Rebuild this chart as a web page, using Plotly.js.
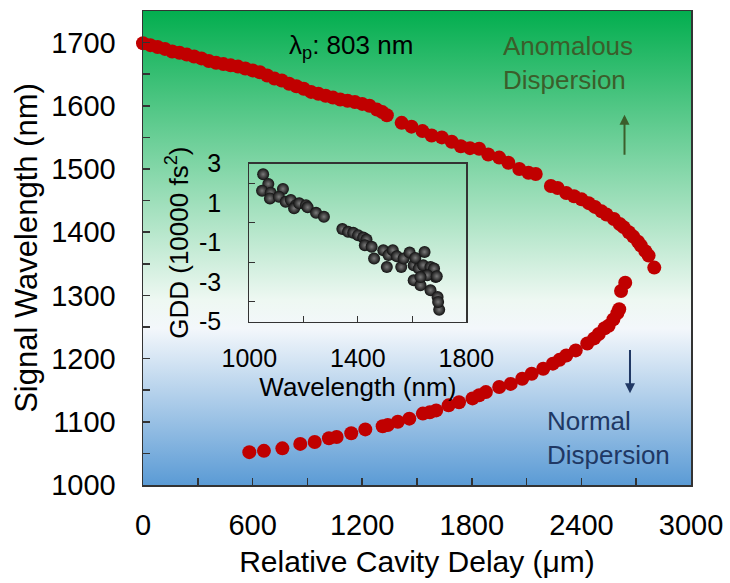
<!DOCTYPE html>
<html>
<head>
<meta charset="utf-8">
<script src="https://cdn.plot.ly/plotly-3.0.1.min.js"></script>
<style>html,body{margin:0;padding:0;background:#fff;}#chart{width:730px;height:583px;}</style>
</head>
<body>
<div id="chart"></div>
<script>
// Upper (anomalous) branch: relative cavity delay (µm) vs signal wavelength (nm)
const upperDelay = [0, 40, 80, 120, 160, 200, 240, 280, 320, 360, 400, 440, 480, 520, 560, 600, 640, 680, 720, 760, 800, 840, 880, 920, 960, 1000, 1040, 1080, 1120, 1160, 1200, 1240, 1280, 1310, 1335,
  1416, 1470, 1530, 1580, 1636, 1690, 1740, 1790, 1840, 1890, 1950, 2000, 2060, 2110, 2150,
  2233, 2270, 2317, 2360, 2401, 2440, 2474, 2510, 2537, 2578, 2610, 2631, 2660, 2684, 2710, 2725, 2750, 2768, 2799];
const upperWl = [1699, 1696, 1693, 1690, 1686, 1684, 1681, 1678, 1675, 1671, 1668, 1666, 1664, 1662, 1659, 1656, 1653, 1648, 1643, 1640, 1635, 1631, 1627, 1622, 1619, 1616, 1613, 1610, 1608, 1606, 1603, 1600, 1594, 1590, 1585,
  1573, 1567, 1560, 1553, 1550, 1543, 1536, 1533, 1532, 1523, 1518, 1510, 1500, 1494, 1492,
  1473, 1470, 1462, 1457, 1452, 1446, 1440, 1433, 1428, 1421, 1413, 1408, 1400, 1393, 1385, 1379, 1370, 1363, 1344];
// Lower (normal) branch
const lowerDelay = [582, 662, 763, 861, 940, 1018, 1060, 1140, 1217, 1312, 1340, 1395, 1458, 1532, 1570, 1605, 1673, 1730, 1804, 1840, 1877, 1950, 2013, 2076, 2128, 2191, 2244, 2280, 2317, 2369, 2432, 2470, 2495, 2527, 2549, 2575, 2597, 2607, 2617, 2640];
const lowerWl = [1052, 1054, 1058, 1065, 1068, 1074, 1076, 1082, 1088, 1093, 1095, 1100, 1105, 1113, 1115, 1118, 1126, 1131, 1137, 1142, 1147, 1155, 1160, 1168, 1176, 1184, 1192, 1198, 1205, 1213, 1224, 1232, 1239, 1248, 1252, 1262, 1272, 1278, 1307, 1320];
// Inset: GDD (10000 fs^2) vs wavelength (nm)
const insetWl = [1051, 1070, 1047, 1079, 1124, 1076, 1109, 1134, 1153, 1172, 1165, 1184, 1209, 1215, 1246, 1275,
  1343, 1364, 1383, 1401, 1420, 1432, 1426, 1451, 1460, 1494, 1507, 1513, 1529, 1544, 1560, 1569, 1591, 1606, 1612, 1625,
  1606, 1631, 1646, 1641, 1668, 1668, 1687, 1681, 1694, 1700, 1696, 1656, 1631, 1691];
const insetGdd = [2.46, 1.97, 1.63, 1.53, 1.72, 1.24, 1.32, 1.07, 1.16, 0.90, 0.74, 0.99, 0.90, 0.79, 0.51, 0.31,
  -0.31, -0.45, -0.50, -0.62, -0.74, -0.84, -1.13, -1.21, -1.80, -1.38, -2.23, -1.63, -1.38, -1.69, -2.23, -1.80, -1.50, -2.14, -1.77, -2.31,
  -2.90, -3.16, -1.47, -2.14, -2.23, -3.41, -2.74, -2.31, -3.75, -4.39, -4.00, -2.65, -2.74, -2.70];
// Inset y tick labels (hyphen minus as in the original)
const insetGddTicks = [-5, -3, -1, 1, 3];
const insetGddTickText = ['-5', '-3', '-1', '1', '3'];

const FONT = 'Liberation Sans, Arial, sans-serif';
const RED = '#c00000';

const svg = "<svg xmlns='http://www.w3.org/2000/svg' width='100' height='100' preserveAspectRatio='none'>" +
  "<defs><linearGradient id='g' x1='0' y1='0' x2='0' y2='1'>" +
  "<stop offset='0' stop-color='#03ae4f'/>" +
  "<stop offset='0.61' stop-color='#eef8f2'/>" +
  "<stop offset='0.67' stop-color='#f3f7fb'/>" +
  "<stop offset='1' stop-color='#5b9bd5'/>" +
  "</linearGradient></defs><rect width='100' height='100' fill='url(#g)'/></svg>";
const bgSrc = 'data:image/svg+xml;charset=utf-8,' + encodeURIComponent(svg);

const traces = [
  {x: upperDelay, y: upperWl, type: 'scatter', mode: 'markers', cliponaxis: false,
   marker: {color: RED, size: 14, line: {width: 0}}, xaxis: 'x', yaxis: 'y'},
  {x: lowerDelay, y: lowerWl, type: 'scatter', mode: 'markers', cliponaxis: false,
   marker: {color: RED, size: 14, line: {width: 0}}, xaxis: 'x', yaxis: 'y'},
  {x: insetWl, y: insetGdd, type: 'scatter', mode: 'markers', cliponaxis: false,
   marker: {color: '#111111', size: 12, line: {width: 0}, gradient: {type: 'radial', color: '#7a7a7a'}},
   xaxis: 'x2', yaxis: 'y2'}
];

const layout = {
  width: 730, height: 583,
  margin: {l: 143, r: 39, t: 11, b: 98},
  paper_bgcolor: '#ffffff',
  plot_bgcolor: 'rgba(0,0,0,0)',
  showlegend: false,
  font: {family: FONT, color: '#000'},
  images: [{source: bgSrc, xref: 'paper', yref: 'paper', x: 0, y: 1, sizex: 1, sizey: 1,
            sizing: 'stretch', xanchor: 'left', yanchor: 'top', layer: 'below'}],
  xaxis: {
    range: [0, 3000], tick0: 0, dtick: 600, ticks: 'inside', ticklen: 7, tickwidth: 1.5, tickcolor: '#333',
    minor: {dtick: 300, ticks: 'inside', ticklen: 7, tickwidth: 1.5, tickcolor: '#333'},
    showgrid: false, zeroline: false, showline: true, mirror: true, linecolor: '#333', linewidth: 1.5,
    tickfont: {size: 29, family: FONT}, ticklabelstandoff: 14,
    title: {text: 'Relative Cavity Delay (μm)', font: {size: 30, family: FONT}, standoff: 10},
    automargin: false
  },
  yaxis: {
    range: [1000, 1750], tick0: 1000, dtick: 100, ticks: 'inside', ticklen: 7, tickwidth: 1.5, tickcolor: '#333',
    minor: {dtick: 50, ticks: 'inside', ticklen: 7, tickwidth: 1.5, tickcolor: '#333'},
    showgrid: false, zeroline: false, showline: true, mirror: true, linecolor: '#333', linewidth: 1.5,
    tickfont: {size: 29, family: FONT}, ticklabelstandoff: 20,
    title: {text: 'Signal Wavelength (nm)', font: {size: 31, family: FONT}, standoff: 4},
    automargin: false
  },
  xaxis2: {
    domain: [0.194, 0.590], anchor: 'y2', range: [1000, 1800], tick0: 1000, dtick: 400,
    ticks: 'inside', ticklen: 6, tickcolor: '#333',
    minor: {dtick: 200, ticks: 'inside', ticklen: 6, tickcolor: '#333'},
    showgrid: false, zeroline: false, showline: true, mirror: true, linecolor: '#333', linewidth: 1.2,
    tickfont: {size: 25, family: FONT}, ticklabelstandoff: 14,
    title: {text: 'Wavelength (nm)', font: {size: 26, family: FONT}, standoff: 2},
    automargin: false
  },
  yaxis2: {
    domain: [0.3445, 0.678], anchor: 'x2', range: [-5, 3],
    tickmode: 'array', tickvals: insetGddTicks, ticktext: insetGddTickText,
    ticks: 'inside', ticklen: 0, tickcolor: '#333',
    minor: {tick0: 0, dtick: 2, ticks: 'inside', ticklen: 6, tickcolor: '#333'},
    showgrid: false, zeroline: false, showline: true, mirror: true, linecolor: '#333', linewidth: 1.2,
    tickfont: {size: 25, family: FONT}, ticklabelstandoff: 22,
    title: {text: 'GDD (10000 fs<sup>2</sup>)', font: {size: 26, family: FONT}, standoff: 2},
    automargin: false
  },
  annotations: [
    {xref: 'x', yref: 'y', x: 1139, y: 1694, text: 'λ<sub>p</sub>: 803 nm', showarrow: false,
     xanchor: 'center', yanchor: 'middle', font: {size: 26, family: FONT, color: '#000'}},
    {xref: 'x', yref: 'y', x: 1960, y: 1668, text: 'Anomalous<br>Dispersion', showarrow: false,
     xanchor: 'left', yanchor: 'middle', align: 'left', font: {size: 26, family: FONT, color: '#3b5e2b'}},
    {xref: 'x', yref: 'y', x: 2200, y: 1075, text: 'Normal<br>Dispersion', showarrow: false,
     xanchor: 'left', yanchor: 'middle', align: 'left', font: {size: 26, family: FONT, color: '#203864'}},
    {xref: 'x', yref: 'y', axref: 'x', ayref: 'y', x: 2636, y: 1586, ax: 2636, ay: 1520, text: '',
     showarrow: true, arrowhead: 2, arrowsize: 1, arrowwidth: 2, arrowcolor: '#3b5e2b'},
    {xref: 'x', yref: 'y', axref: 'x', ayref: 'y', x: 2666, y: 1145, ax: 2666, ay: 1216, text: '',
     showarrow: true, arrowhead: 2, arrowsize: 1, arrowwidth: 2, arrowcolor: '#203864'}
  ]
};

Plotly.newPlot('chart', traces, layout, {displayModeBar: false, staticPlot: true});
</script>
</body>
</html>
